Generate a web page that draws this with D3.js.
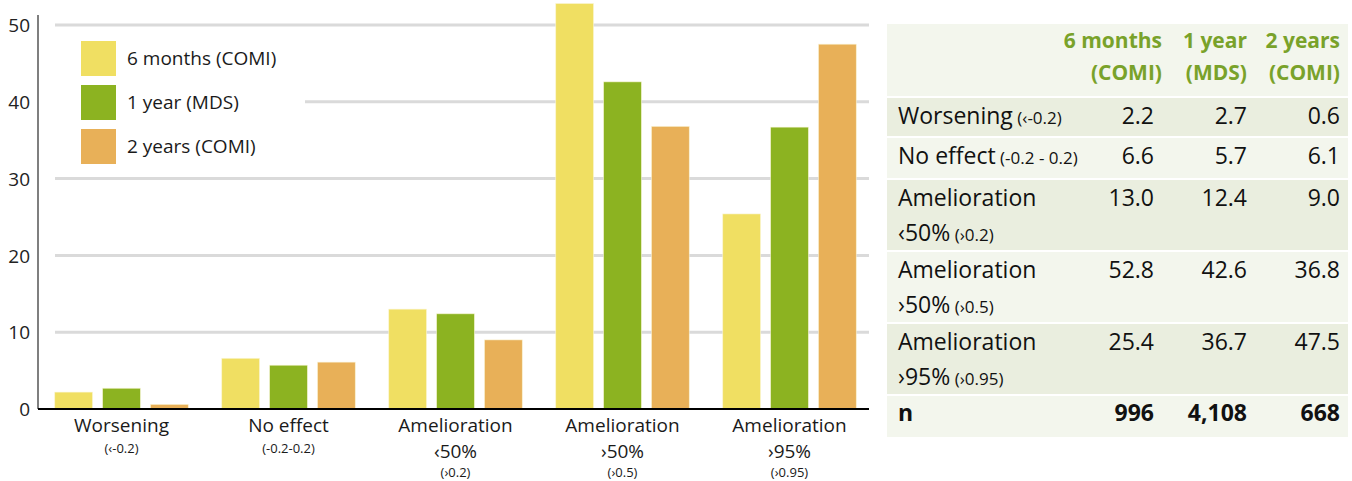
<!DOCTYPE html>
<html>
<head>
<meta charset="utf-8">
<script src="https://cdn.jsdelivr.net/npm/d3@7"></script>
<style>
  html, body { margin: 0; padding: 0; background: #fff; }
  svg { display: block; font-family: "Open Sans", "Noto Sans", sans-serif; }
</style>
</head>
<body>
<svg id="chart" width="1352" height="481"></svg>
<script>
// ---------- DATA ----------
const categories = ["Worsening", "No effect", "Amelioration ‹50%", "Amelioration ›50%", "Amelioration ›95%"];
const categoryLines = [["Worsening"], ["No effect"], ["Amelioration", "‹50%"], ["Amelioration", "›50%"], ["Amelioration", "›95%"]];
const categorySubs = ["(‹-0.2)", "(-0.2-0.2)", "(›0.2)", "(›0.5)", "(›0.95)"];
const seriesNames = ["6 months (COMI)", "1 year (MDS)", "2 years (COMI)"];
const values6Months = [2.2, 6.6, 13.0, 52.8, 25.4];
const values1Year = [2.7, 5.7, 12.4, 42.6, 36.7];
const values2Years = [0.6, 6.1, 9.0, 36.8, 47.5];
const yTicks = [0, 10, 20, 30, 40, 50];
const tableHeaderLine1 = ["6 months", "1 year", "2 years"];
const tableHeaderLine2 = ["(COMI)", "(MDS)", "(COMI)"];
const tableRowLines = [["Worsening"], ["No effect"], ["Amelioration", "‹50%"], ["Amelioration", "›50%"], ["Amelioration", "›95%"]];
const tableRowSubs = ["(‹-0.2)", "(-0.2 - 0.2)", "(›0.2)", "(›0.5)", "(›0.95)"];
const nValues = [996, 4108, 668];

const seriesValues = [values6Months, values1Year, values2Years];
const colors = ["#f0df62", "#8cb321", "#e8b058"];

// ---------- CHART ----------
const svg = d3.select("#chart");
const x0 = d3.scaleBand().domain(categories).range([38, 873]).paddingInner(0.2).paddingOuter(0.1);
const x1 = d3.scaleBand().domain(seriesNames).range([0, x0.bandwidth()]).paddingInner(0.21).paddingOuter(0);
const y = d3.scaleLinear().domain([0, 50]).range([409, 25]);

// gridlines
svg.append("g").selectAll("line").data(yTicks.filter(d => d > 0)).join("line")
  .attr("x1", 55).attr("x2", 869)
  .attr("y1", d => y(d)).attr("y2", d => y(d))
  .attr("stroke", "#dadada").attr("stroke-width", 3);

// bars
const groups = svg.append("g").selectAll("g").data(categories).join("g")
  .attr("transform", d => `translate(${x0(d)},0)`);
groups.selectAll("rect").data((c, i) => seriesNames.map((s, j) => ({ s, v: seriesValues[j][i], j })))
  .join("rect")
  .attr("x", d => x1(d.s))
  .attr("width", x1.bandwidth())
  .attr("y", d => y(d.v))
  .attr("height", d => y(0) - y(d.v))
  .attr("fill", d => colors[d.j])
  .attr("stroke", "#fbf6d8").attr("stroke-width", 0.8).attr("stroke-opacity", 0.7);

// legend (with white background covering gridlines)
const legend = svg.append("g");
legend.append("rect").attr("x", 55).attr("y", 32).attr("width", 250).attr("height", 138).attr("fill", "#fff");
seriesNames.forEach((s, i) => {
  legend.append("rect").attr("x", 81).attr("y", 41 + i * 44).attr("width", 35).attr("height", 35).attr("fill", colors[i]);
  legend.append("text").attr("x", 127).attr("y", 65 + i * 44).attr("font-size", 19).attr("fill", "#1a1a1a").text(s);
});

// y axis
const yAxis = d3.axisLeft(y).tickValues(yTicks).tickSize(0).tickPadding(8);
const ya = svg.append("g").attr("transform", "translate(38,0)").call(yAxis);
ya.select(".domain").attr("d", `M0,15V${y(0)}`).attr("stroke", "#555").attr("stroke-width", 1.5);
ya.selectAll("text").attr("font-size", 19).attr("fill", "#222").attr("font-family", "Open Sans, sans-serif")
  .attr("dy", "0.35em");

// baseline
svg.append("line").attr("x1", 38).attr("x2", 869).attr("y1", y(0)).attr("y2", y(0))
  .attr("stroke", "#000").attr("stroke-width", 2);

// x labels
const xl = svg.append("g").selectAll("g").data(categories).join("g")
  .attr("transform", d => `translate(${x0(d) + x0.bandwidth() / 2},0)`);
xl.each(function (c, i) {
  const g = d3.select(this);
  const lines = categoryLines[i];
  lines.forEach((t, k) => {
    g.append("text").attr("text-anchor", "middle").attr("y", 432 + k * 26).attr("font-size", 19).attr("fill", "#1a1a1a").text(t);
  });
  g.append("text").attr("text-anchor", "middle").attr("y", lines.length === 1 ? 453 : 477)
    .attr("font-size", 13).attr("fill", "#1a1a1a").text(categorySubs[i]);
});

// ---------- TABLE ----------
const tbl = svg.append("g");
const tX = 887, tW = 461;
const colRight = [1154, 1247, 1340];
const headerRight = [1162, 1247, 1340];
const rowHeights = [72, 38, 40, 70, 70, 70, 41];
const rowFills = ["#f3f6ed", "#eaeedf", "#f3f6ed", "#eaeedf", "#f3f6ed", "#eaeedf", "#f3f6ed"];
let tops = [];
let cy = 24;
rowHeights.forEach((h, i) => { tops.push(cy); cy += h + 2; });
tbl.selectAll("rect").data(rowHeights).join("rect")
  .attr("x", tX).attr("y", (d, i) => tops[i]).attr("width", tW).attr("height", d => d)
  .attr("fill", (d, i) => rowFills[i]);

// header
tableHeaderLine1.forEach((t, j) => {
  tbl.append("text").attr("x", headerRight[j]).attr("y", 48).attr("text-anchor", "end")
    .attr("font-size", 21).attr("font-weight", 700).attr("fill", "#79a22a").text(t);
  tbl.append("text").attr("x", headerRight[j]).attr("y", 80).attr("text-anchor", "end")
    .attr("font-size", 21).attr("font-weight", 700).attr("fill", "#79a22a").text(tableHeaderLine2[j]);
});

const fmt = d3.format(".1f");
tableRowLines.forEach((lines, i) => {
  const top = tops[i + 1];
  const base = top + 26;
  lines.forEach((t, k) => {
    const tx = tbl.append("text").attr("x", 898).attr("y", base + k * 35).attr("font-size", 23).attr("fill", "#111");
    tx.append("tspan").text(t);
    if (k === lines.length - 1) {
      tx.append("tspan").attr("font-size", 17).text(" " + tableRowSubs[i]);
    }
  });
  seriesValues.forEach((vals, j) => {
    tbl.append("text").attr("x", colRight[j]).attr("y", base).attr("text-anchor", "end")
      .attr("font-size", 23).attr("fill", "#111").text(fmt(vals[i]));
  });
});
// n row
const nTop = tops[6];
tbl.append("text").attr("x", 898).attr("y", nTop + 25).attr("font-size", 23).attr("font-weight", 700).attr("fill", "#111").text("n");
nValues.forEach((v, j) => {
  tbl.append("text").attr("x", colRight[j]).attr("y", nTop + 25).attr("text-anchor", "end")
    .attr("font-size", 23).attr("font-weight", 700).attr("fill", "#111").text(d3.format(",")(v));
});
</script>
</body>
</html>
